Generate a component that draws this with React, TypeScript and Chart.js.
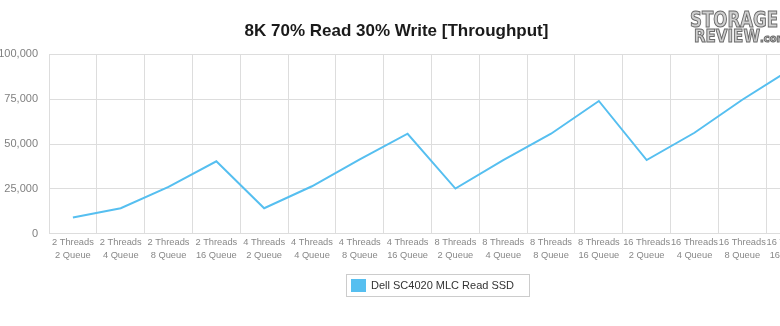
import React, { useEffect, useRef } from "react";
import { Chart, registerables } from "chart.js";

Chart.register(...registerables);

const categories: string[][] = [
  ["2 Threads", "2 Queue"],
  ["2 Threads", "4 Queue"],
  ["2 Threads", "8 Queue"],
  ["2 Threads", "16 Queue"],
  ["4 Threads", "2 Queue"],
  ["4 Threads", "4 Queue"],
  ["4 Threads", "8 Queue"],
  ["4 Threads", "16 Queue"],
  ["8 Threads", "2 Queue"],
  ["8 Threads", "4 Queue"],
  ["8 Threads", "8 Queue"],
  ["8 Threads", "16 Queue"],
  ["16 Threads", "2 Queue"],
  ["16 Threads", "4 Queue"],
  ["16 Threads", "8 Queue"],
  ["16 Threads", "16 Queue"],
];

const seriesLabel = "Dell SC4020 MLC Read SSD";
const throughput: number[] = [
  9150, 14250, 26150, 40400, 14250, 26500, 41500, 55750,
  25200, 41000, 55750, 74000, 41100, 56300, 74700, 91500,
];

const yTicks: number[] = [0, 25000, 50000, 75000, 100000];
const titleText = "8K 70% Read 30% Write [Throughput]";

const FONT = "'Liberation Sans', Arial, Helvetica, sans-serif";
const LINE_COLOR = "#56bff0";
const SHIFT = 21; // canvas is shifted left by this many px

const overlayPlugin = {
  id: "overlay",
  afterDraw(chart: any) {
    const ctx = chart.ctx as CanvasRenderingContext2D;
    ctx.save();
    // legend box
    ctx.strokeStyle = "#cccccc";
    ctx.lineWidth = 1;
    ctx.strokeRect(346.5 + SHIFT, 274.5, 183, 22);
    ctx.fillStyle = LINE_COLOR;
    ctx.fillRect(351 + SHIFT, 279, 15, 13);
    ctx.fillStyle = "#333333";
    ctx.font = `11px ${FONT}`;
    ctx.textBaseline = "middle";
    ctx.textAlign = "left";
    ctx.fillText(chart.data.datasets[0].label, 371 + SHIFT, 285.5);

    // watermark logo text
    ctx.textBaseline = "alphabetic";
    ctx.lineWidth = 1;
    ctx.strokeStyle = "#6a6a6a";
    ctx.fillStyle = "#cfcfcf";
    ctx.font = `bold 21px 'DejaVu Sans Condensed', 'DejaVu Sans', sans-serif`;
    ctx.fillText("STORAGE", 690 + SHIFT, 27, 88);
    ctx.strokeText("STORAGE", 690 + SHIFT, 27, 88);
    ctx.font = `bold 18px 'DejaVu Sans Condensed', 'DejaVu Sans', sans-serif`;
    ctx.fillText("REVIEW", 694 + SHIFT, 42, 66);
    ctx.strokeText("REVIEW", 694 + SHIFT, 42, 66);
    ctx.font = `bold 11px 'DejaVu Sans Condensed', 'DejaVu Sans', sans-serif`;
    ctx.fillText(".com", 760 + SHIFT, 42);
    ctx.strokeText(".com", 760 + SHIFT, 42);
    ctx.restore();
  },
};

export default function App() {
  const canvasRef = useRef<HTMLCanvasElement | null>(null);

  useEffect(() => {
    if (!canvasRef.current) return;
    const chart = new Chart(canvasRef.current, {
      type: "line",
      data: {
        labels: categories,
        datasets: [
          {
            label: seriesLabel,
            data: throughput,
            borderColor: LINE_COLOR,
            backgroundColor: LINE_COLOR,
            borderWidth: 2,
            pointRadius: 0,
            pointHoverRadius: 0,
            tension: 0,
            fill: false,
          },
        ],
      },
      options: {
        animation: false,
        responsive: false,
        devicePixelRatio: 1,
        layout: { padding: { left: 0, right: 0, top: 0, bottom: 62 } },
        plugins: {
          legend: { display: false },
          tooltip: { enabled: false },
          title: {
            display: true,
            text: titleText,
            color: "#1a1a1a",
            font: { family: FONT, size: 17, weight: "bold" },
            padding: { top: 20.8, bottom: 13.1 },
          },
        },
        scales: {
          x: {
            type: "category",
            offset: true,
            grid: { color: "#dddddd", offset: true, drawTicks: false },
            border: { color: "#dddddd" },
            ticks: {
              autoSkip: false,
              maxRotation: 0,
              minRotation: 0,
              padding: 3,
              color: "#888888",
              font: { family: FONT, size: 9.3, lineHeight: 1.3 },
            },
            afterFit(scale: any) {
              scale.paddingLeft = 0;
              scale.paddingRight = 0;
            },
          },
          y: {
            min: 0,
            max: 100000,
            grid: { color: "#dddddd", drawTicks: false },
            border: { color: "#dddddd" },
            afterBuildTicks(scale: any) {
              scale.ticks = yTicks.map((v) => ({ value: v }));
            },
            ticks: {
              padding: 11,
              color: "#808080",
              font: { family: FONT, size: 11 },
              callback: (v: any) => Number(v).toLocaleString("en-US"),
            },
            afterFit(scale: any) {
              scale.width = 49 + SHIFT;
            },
          },
        },
      },
      plugins: [overlayPlugin],
    });
    return () => chart.destroy();
  }, []);

  return (
    <div
      style={{
        position: "fixed",
        left: 0,
        top: 0,
        width: 780,
        height: 326,
        overflow: "hidden",
        background: "#ffffff",
      }}
    >
      <canvas
        ref={canvasRef}
        width={835}
        height={326}
        style={{ position: "absolute", left: -SHIFT, top: 0, display: "block" }}
      />
    </div>
  );
}
